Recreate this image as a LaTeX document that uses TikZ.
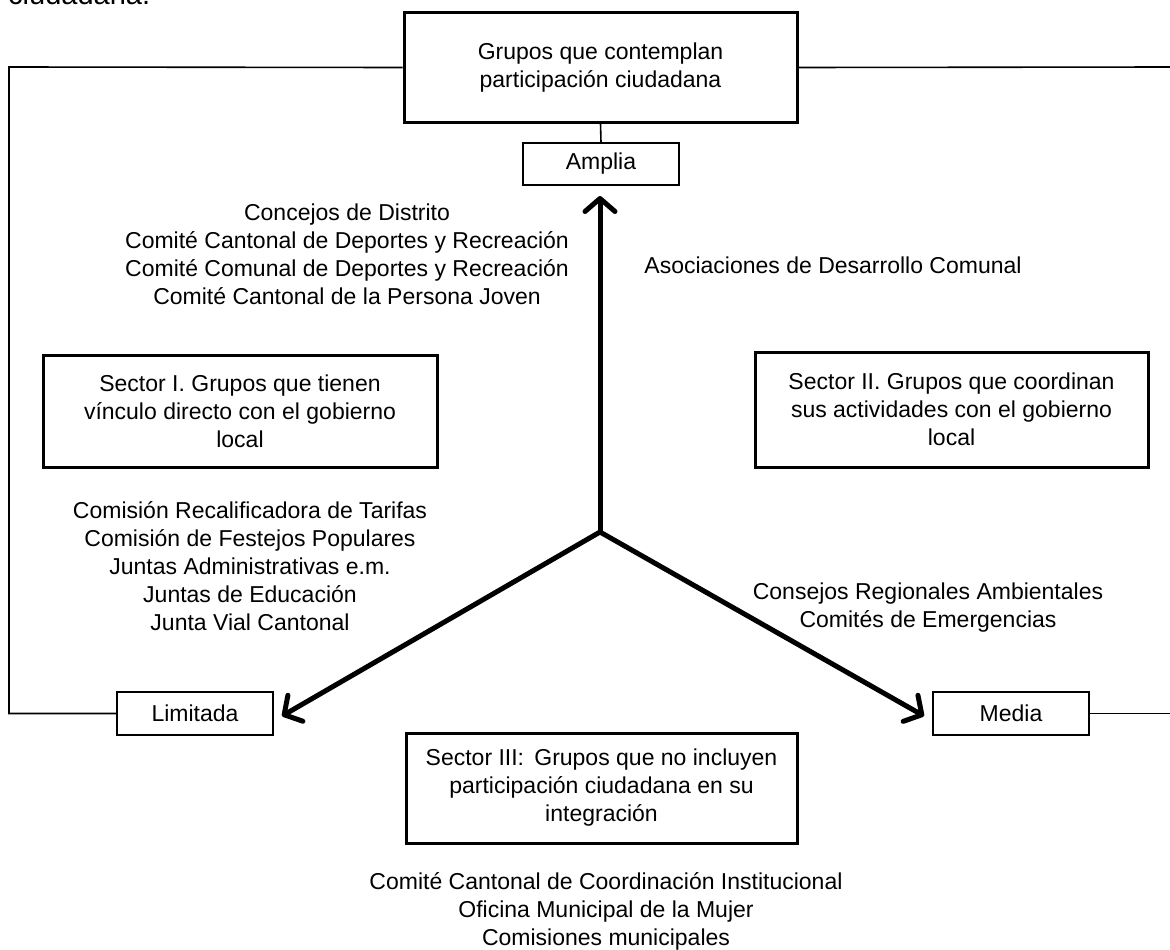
\documentclass[tikz,border=0pt]{standalone}
\usepackage{fontspec}
\setmainfont{Liberation Sans}
\usetikzlibrary{arrows.meta}
\begin{document}
\begin{tikzpicture}[x=1pt,y=-1pt,
 every node/.style={font=\fontsize{23}{28}\selectfont, align=center, inner sep=0pt},
 bigbox/.style={draw, line width=3pt, rectangle},
 smallbox/.style={draw, line width=1.6pt, rectangle},
 link/.style={line width=1.6pt},
 bigarrow/.style={line width=5pt, line cap=round, -{Straight Barb[length=13pt,width=30pt,line cap=round,line join=round]}}
]
\useasboundingbox (0,0) rectangle (1170,950);
\clip (0,0) rectangle (1170,950);

% caption fragment (cut off at the top edge, as in the reference)
\node[anchor=base west, font=\fontsize{29}{34}\selectfont] (cap) at (8,5) {ciudadana.};

% boxes
\node[bigbox, minimum width=393pt, minimum height=109pt] (top) at (600.5,67.5)
  {Grupos que contemplan\\participación ciudadana};
\node[smallbox, minimum width=156pt, minimum height=42pt] (amplia) at (601,164) {Amplia};
\node[smallbox, minimum width=156pt, minimum height=43pt] (limitada) at (195,713.5) {Limitada};
\node[smallbox, minimum width=156pt, minimum height=43pt] (media) at (1011,713.5) {Media};

\node[bigbox, minimum width=394pt, minimum height=112pt] (s1) at (240,411)
  {Sector I. Grupos que tienen\\vínculo directo con el gobierno\\local};
\node[bigbox, minimum width=393pt, minimum height=115pt] (s2) at (951.5,409.5)
  {Sector II. Grupos que coordinan\\sus actividades con el gobierno\\local};
\node[bigbox, minimum width=391pt, minimum height=110pt] (s3) at (601.5,788)
  {Sector III:\, Grupos que no incluyen\\participación ciudadana en su\\integración};

% text groups
\node (g1) at (347,254) {Concejos de Distrito\\Comité Cantonal de Deportes y Recreación\\Comité Comunal de Deportes y Recreación\\Comité Cantonal de la Persona Joven};
\node (g2) at (833,265) {Asociaciones de Desarrollo Comunal};
\node (g3) at (250,566) {Comisión Recalificadora de Tarifas\\Comisión de Festejos Populares\\Juntas Administrativas e.m.\\Juntas de Educación\\Junta Vial Cantonal};
\node (g4) at (928,608) {Consejos Regionales Ambientales\\Comités de Emergencias};
\node (g5) at (606,911) {Comité Cantonal de Coordinación Institucional\\Oficina Municipal de la Mujer\\Comisiones municipales};

% helper coordinates
\coordinate (c) at (600,532);
\coordinate (tipA) at (600,196);
\coordinate (tipL) at (282,716);
\coordinate (tipM) at (924,716);
\coordinate (lt) at (9,67);
\coordinate (lb) at (9,713.5);
\coordinate (rt) at (1172,67);
\coordinate (rb) at (1172,713.5);

% thin connectors
\draw[link] (top.south) -- (amplia.north);
\draw[link] (top.west) -- (lt) -- (lb) -- (limitada.west);
\draw[link] (top.east) -- (rt);
\draw[link] (media.east) -- (rb);

% thick arrows
\draw[bigarrow] (c) -- (tipA);
\draw[bigarrow] (c) -- (tipL);
\draw[bigarrow] (c) -- (tipM);
\end{tikzpicture}
\end{document}
